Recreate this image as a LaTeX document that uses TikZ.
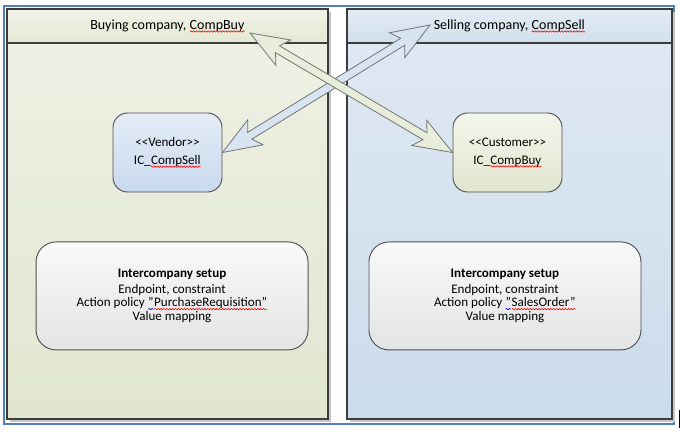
\documentclass[tikz,border=0pt]{standalone}
\usepackage{fontspec}
\setmainfont{Carlito}
\usetikzlibrary{positioning,calc,shadows,decorations.pathmorphing}

\definecolor{framebl}{HTML}{4F81BD}
\definecolor{laneline}{HTML}{3C3C3C}
\definecolor{boxline}{HTML}{505050}
\definecolor{arrowline}{HTML}{747474}
\definecolor{buyheadtop}{HTML}{F1F3E8}
\definecolor{buyheadbot}{HTML}{E3E8D3}
\definecolor{buybodytop}{HTML}{EFF1E5}
\definecolor{buybodybot}{HTML}{E1E6D0}
\definecolor{sellheadtop}{HTML}{E4ECF5}
\definecolor{sellheadbot}{HTML}{D0DFEC}
\definecolor{sellbodytop}{HTML}{E0E9F3}
\definecolor{sellbodybot}{HTML}{CBDCEB}
\definecolor{vendortop}{HTML}{E4ECF6}
\definecolor{vendorbot}{HTML}{C8DAEE}
\definecolor{customertop}{HTML}{F4F5EB}
\definecolor{customerbot}{HTML}{E1E6CF}
\definecolor{setuptop}{HTML}{F9F9F9}
\definecolor{setupbot}{HTML}{E4E4E4}
\definecolor{arrowgreen}{HTML}{E8ECDA}
\definecolor{arrowblue}{HTML}{D7E4F1}

% spell-check squiggle under a word
\newcommand\spellwave[2]{\tikz[baseline=(sw.base)]{%
  \node[spellword] (sw) {#2};
  \draw[spellline=#1] ([yshift=-1.7pt]sw.base west) -- ([yshift=-1.7pt]sw.base east);}}
\newcommand\redwave[1]{\spellwave{red}{#1}}
\newcommand\bluewave[1]{\spellwave{blue}{#1}}

\newcommand\headfont{\fontsize{10.5}{12}\selectfont}
\newcommand\rolefont{\fontsize{9.8}{13.5}\selectfont}
\newcommand\setupfont{\fontsize{9.8}{10.2}\selectfont}

% block arrow with a head at both ends
\newcommand\fatarrow[3]{%
  \coordinate (barbA) at ($(#1)!29pt!(#2)$);
  \coordinate (neckA) at ($(#1)!24pt!(#2)$);
  \coordinate (barbB) at ($(#2)!29pt!(#1)$);
  \coordinate (neckB) at ($(#2)!24pt!(#1)$);
  \draw[bigarrow, fill=#3] (#1) -- ($(barbA)!11pt!90:(#2)$) -- ($(neckA)!3pt!90:(#2)$)
    -- ($(neckB)!3pt!-90:(#1)$) -- ($(barbB)!11pt!-90:(#1)$) -- (#2)
    -- ($(barbB)!11pt!90:(#1)$) -- ($(neckB)!3pt!90:(#1)$)
    -- ($(neckA)!3pt!-90:(#2)$) -- ($(barbA)!11pt!-90:(#2)$) -- cycle;}

\tikzset{
  frame/.style={draw=framebl, line width=1.1pt},
  lane/.style={draw=laneline, line width=0.8pt, inner sep=0pt,
    minimum width=#1, minimum height=307.5pt,
    drop shadow={shadow xshift=2.2pt, shadow yshift=-2.2pt, fill=black!22, opacity=1}},
  lanehead/.style={draw=laneline, line width=0.8pt, inner sep=0pt,
    minimum width=#1, minimum height=25.5pt, font=\headfont},
  rolebox/.style={draw=boxline, line width=0.7pt, rounded corners=11pt,
    minimum width=81.75pt, minimum height=59.25pt, align=center, font=\rolefont},
  setupbox/.style={draw=boxline, line width=0.7pt, rounded corners=15pt,
    minimum width=204pt, minimum height=81pt, align=center, font=\setupfont,
    top color=setuptop, bottom color=setupbot},
  bigarrow/.style={draw=arrowline, line width=0.6pt, line join=miter},
  spellword/.style={minimum width=0pt, minimum height=0pt, inner sep=0pt, outer sep=0pt,
    draw=none, fill=none, shade=false, sharp corners, align=left},
  spellline/.style={draw=#1, fill=none, shade=false, sharp corners, line width=0.45pt,
    decorate, decoration={snake, amplitude=0.5pt, segment length=2.2pt}}
}

\begin{document}
\begin{tikzpicture}[x=0.75pt, y=-0.75pt]
\useasboundingbox (0,0) rectangle (680,431);
\draw[frame] (4,6) rectangle (674,424);

% the two companies
\node[lane=240.75pt, top color=buybodytop, bottom color=buybodybot] (buylane) at (167.5,214) {};
\node[lane=243.75pt, top color=sellbodytop, bottom color=sellbodybot] (selllane) at (509.5,214) {};
\node[lanehead=240.75pt, top color=buyheadtop, bottom color=buyheadbot] (buyhead)
  [below=0pt of buylane.north] {Buying company, \redwave{CompBuy}};
\node[lanehead=243.75pt, top color=sellheadtop, bottom color=sellheadbot] (sellhead)
  [below=0pt of selllane.north] {Selling company, \redwave{CompSell}};

% accounts
\node[rolebox, top color=vendortop, bottom color=vendorbot] (vendor)
  [below=51.75pt of buyhead] {<{}<Vendor>{}>\\IC\_\redwave{CompSell}};
\node[rolebox, top color=customertop, bottom color=customerbot] (customer)
  [below=51.75pt of sellhead, xshift=-1.5pt] {<{}<Customer>{}>\\IC\_\redwave{CompBuy}};

% setup
\node[setupbox] (buysetup) [below=36.75pt of vendor, xshift=3.4pt]
  {\textbf{Intercompany setup}\\[1.5pt]Endpoint, constraint\\
   Action policy \bluewave{”}\redwave{PurchaseRequisition”}\\Value mapping};
\node[setupbox] (sellsetup) [below=36.75pt of customer, xshift=-1.9pt]
  {\textbf{Intercompany setup}\\[1.5pt]Endpoint, constraint\\
   Action policy \bluewave{”}\redwave{SalesOrder”}\\Value mapping};

% links
\coordinate (buytip) at (250,33);
\coordinate (selltip) at (430,25);
\fatarrow{vendor.east}{selltip}{arrowblue}
\fatarrow{buytip}{customer.west}{arrowgreen}

\draw[line width=1pt] (679.3,410) -- (679.3,428);
\end{tikzpicture}
\end{document}
